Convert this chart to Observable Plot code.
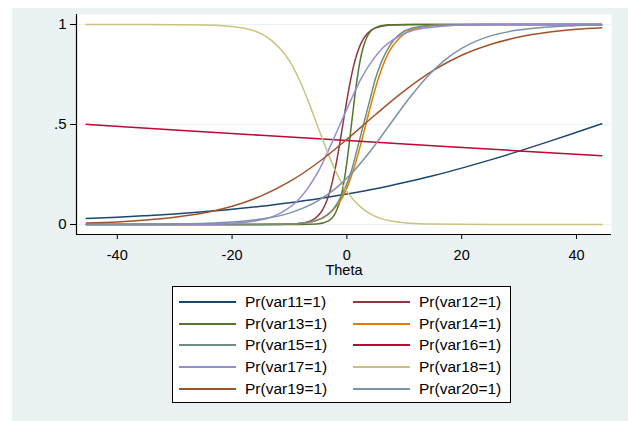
<!DOCTYPE html>
<html>
<head>
<meta charset="utf-8">
<script src="https://cdn.jsdelivr.net/npm/d3@7"></script>
<script src="https://cdn.jsdelivr.net/npm/@observablehq/plot@0.6"></script>
<style>
  body { margin: 0; background: #fff; }
  #page { position: relative; width: 628px; height: 421px; background: #fff; overflow: hidden;
          font-family: "Liberation Sans", Arial, sans-serif; }
  #bg { position: absolute; left: 12px; top: 8px; right: 0; bottom: 0; background: #eaf2f3; }
  #chart { position: absolute; left: 0; top: 0; }
  #legend { position: absolute; left: 172px; top: 286px; width: 339px; height: 117px;
            border: 1px solid #000; background: #fff; box-sizing: border-box;
            display: grid; grid-template-columns: 174px 174px; grid-auto-rows: 21.9px;
            padding: 3.7px 0 0 6px; }
  .item { display: flex; align-items: center; font-size: 15.5px; color: #000; white-space: nowrap; }
  .sw { width: 57px; height: 2px; margin-right: 9px; flex: none; }
</style>
</head>
<body>
<div id="page">
  <div id="bg"></div>
  <div id="chart"></div>
  <div id="legend"></div>
</div>
<script>
// ---- data ----
const names = ["Pr(var11=1)", "Pr(var12=1)", "Pr(var13=1)", "Pr(var14=1)", "Pr(var15=1)",
               "Pr(var16=1)", "Pr(var17=1)", "Pr(var18=1)", "Pr(var19=1)", "Pr(var20=1)"];
const colors = ["#1a476f", "#90353b", "#55752f", "#e37e00", "#6e8e84",
                "#c10534", "#938dd2", "#cac27e", "#a0522d", "#7b92a8"];

const xTicks = [-40, -20, 0, 20, 40];
const xTickLabels = ["-40", "-20", "0", "20", "40"];
const yTicks = [0, 0.5, 1];
const yTickLabels = ["0", ".5", "1"];
const xLabel = "Theta";

const theta11 = [-45.4, -40, -35, -30, -25, -20, -15, -10, -5, 0, 5, 10, 15, 20, 25, 30, 35, 40, 44.4];
const p11 = [0.030, 0.036, 0.044, 0.053, 0.064, 0.076, 0.091, 0.109, 0.129, 0.152, 0.179, 0.210, 0.244, 0.282, 0.323, 0.367, 0.413, 0.461, 0.504];

const theta12 = [-45.4, -20, -12, -9.0, -6.3, -4.9, -4.2, -3.5, -2.8, -2.1, -1.4, -0.7, 0.0, 0.7, 1.4, 2.1, 2.8, 3.5, 4.9, 7.6, 12, 20, 44.4];
const p12 = [0, 0, 0.0003, 0.0025, 0.018, 0.047, 0.076, 0.119, 0.182, 0.269, 0.378, 0.5, 0.622, 0.731, 0.818, 0.881, 0.924, 0.953, 0.982, 0.9975, 0.9999, 1, 1];

const theta13 = [-45.4, -20, -8, -5.2, -3.2, -2.2, -1.7, -1.2, -0.7, -0.2, 0.3, 0.8, 1.3, 1.8, 2.3, 2.8, 3.3, 3.8, 4.8, 6.8, 10, 20, 44.4];
const p13 = [0, 0, 0.0001, 0.0025, 0.018, 0.047, 0.076, 0.119, 0.182, 0.269, 0.378, 0.5, 0.622, 0.731, 0.818, 0.881, 0.924, 0.953, 0.982, 0.9975, 0.9999, 1, 1];

const theta14 = [-45.4, -25, -16, -10.0, -5.6, -3.4, -2.3, -1.1, 0.0, 1.1, 2.2, 3.3, 4.4, 5.5, 6.6, 7.7, 8.9, 10.0, 12.2, 16.6, 24, 44.4];
const p14 = [0, 0, 0.0002, 0.0025, 0.018, 0.047, 0.076, 0.119, 0.182, 0.269, 0.378, 0.5, 0.622, 0.731, 0.818, 0.881, 0.924, 0.953, 0.982, 0.9975, 0.9999, 1];

const theta15 = [-45.4, -25, -16, -9.9, -5.6, -3.5, -2.4, -1.4, -0.3, 0.8, 1.8, 2.9, 4.0, 5.0, 6.1, 7.2, 8.2, 9.3, 11.4, 15.7, 24, 44.4];
const p15 = [0, 0, 0.0001, 0.0025, 0.018, 0.047, 0.076, 0.119, 0.182, 0.269, 0.378, 0.5, 0.622, 0.731, 0.818, 0.881, 0.924, 0.953, 0.982, 0.9975, 0.9999, 1];

const theta16 = [-45.4, -30, -15, 0, 15, 30, 44.4];
const p16 = [0.501, 0.473, 0.446, 0.420, 0.394, 0.368, 0.344];

const theta17 = [-45.4, -32, -23.4, -16.0, -12.3, -10.5, -8.6, -6.8, -4.9, -3.1, -1.2, 0.7, 2.5, 4.4, 6.2, 8.1, 9.9, 13.6, 21.0, 30, 44.4];
const p17 = [0, 0.0002, 0.0025, 0.018, 0.047, 0.076, 0.119, 0.182, 0.269, 0.378, 0.5, 0.622, 0.731, 0.818, 0.881, 0.924, 0.953, 0.982, 0.9975, 0.9998, 1];

const theta18 = [-45.4, -35, -24.6, -18.1, -14.9, -13.3, -11.7, -10.0, -8.4, -6.8, -5.2, -3.6, -2.0, -0.4, 1.3, 2.9, 4.5, 7.7, 14.2, 25, 44.4];
const p18 = [1, 0.9999, 0.9975, 0.982, 0.953, 0.924, 0.881, 0.818, 0.731, 0.622, 0.5, 0.378, 0.269, 0.182, 0.119, 0.076, 0.047, 0.018, 0.0025, 0.0001, 0];

const theta19 = [-45.4, -40, -35, -30, -25, -20, -15, -10, -5, 0, 5, 10, 15, 20, 25, 30, 35, 40, 44.4];
const p19 = [0.008, 0.013, 0.022, 0.036, 0.057, 0.091, 0.142, 0.214, 0.310, 0.426, 0.550, 0.668, 0.769, 0.846, 0.900, 0.937, 0.961, 0.976, 0.984];

const theta20 = [-45.4, -30, -25, -20, -15, -10, -5, -2, 1, 4, 7.5, 11, 14, 17, 20, 25, 30, 35, 40, 44.4];
const p20 = [0.0002, 0.0025, 0.0055, 0.012, 0.027, 0.057, 0.119, 0.179, 0.261, 0.364, 0.5, 0.636, 0.739, 0.821, 0.881, 0.943, 0.973, 0.988, 0.9945, 0.997];

// ---- build table ----
const thetas = [theta11, theta12, theta13, theta14, theta15, theta16, theta17, theta18, theta19, theta20];
const probs = [p11, p12, p13, p14, p15, p16, p17, p18, p19, p20];
const rows = names.flatMap((n, i) => thetas[i].map((t, j) => ({series: n, theta: t, p: probs[i][j]})));

const xDomain = [-47.1, 46.1];
const yDomain = [-0.05, 1.05];

const chart = Plot.plot({
  width: 628,
  height: 280,
  marginLeft: 76,
  marginRight: 17,
  marginTop: 14,
  marginBottom: 46,
  style: {background: "transparent", fontFamily: "'Liberation Sans', Arial, sans-serif", fontSize: "15px", color: "#000", overflow: "visible"},
  x: {domain: xDomain, label: null},
  y: {domain: yDomain, label: null},
  color: {domain: names, range: colors},
  marks: [
    Plot.frame({fill: "white", stroke: "none"}),
    Plot.gridY(yTicks, {stroke: "#eaf2f3", strokeOpacity: 1, strokeWidth: 1.2}),
    Plot.line(rows, {x: "theta", y: "p", z: "series", stroke: "series", strokeWidth: 1.5, curve: "monotone-x"}),
    Plot.ruleX([xDomain[0]], {stroke: "#000", strokeWidth: 1.2}),
    Plot.ruleY([yDomain[0]], {stroke: "#000", strokeWidth: 1.2}),
    Plot.axisX(xTicks, {tickSize: 5, tickPadding: 10, fontSize: 14.5, label: null, stroke: "#000",
      tickFormat: d => xTickLabels[xTicks.indexOf(d)]}),
    Plot.axisY(yTicks, {tickSize: 6, tickPadding: 4, fontSize: 15, label: null, stroke: "#000",
      tickFormat: d => yTickLabels[yTicks.indexOf(d)]}),
    Plot.text([xLabel], {text: d => d, frameAnchor: "bottom", dy: 40, fontSize: 14.5, fill: "#000"})
  ]
});
document.getElementById("chart").appendChild(chart);

// ---- legend ----
const legend = document.getElementById("legend");
names.forEach((n, i) => {
  const item = document.createElement("div");
  item.className = "item";
  const sw = document.createElement("span");
  sw.className = "sw";
  sw.style.background = colors[i];
  const label = document.createElement("span");
  label.textContent = n;
  item.appendChild(sw);
  item.appendChild(label);
  legend.appendChild(item);
});
</script>
</body>
</html>
